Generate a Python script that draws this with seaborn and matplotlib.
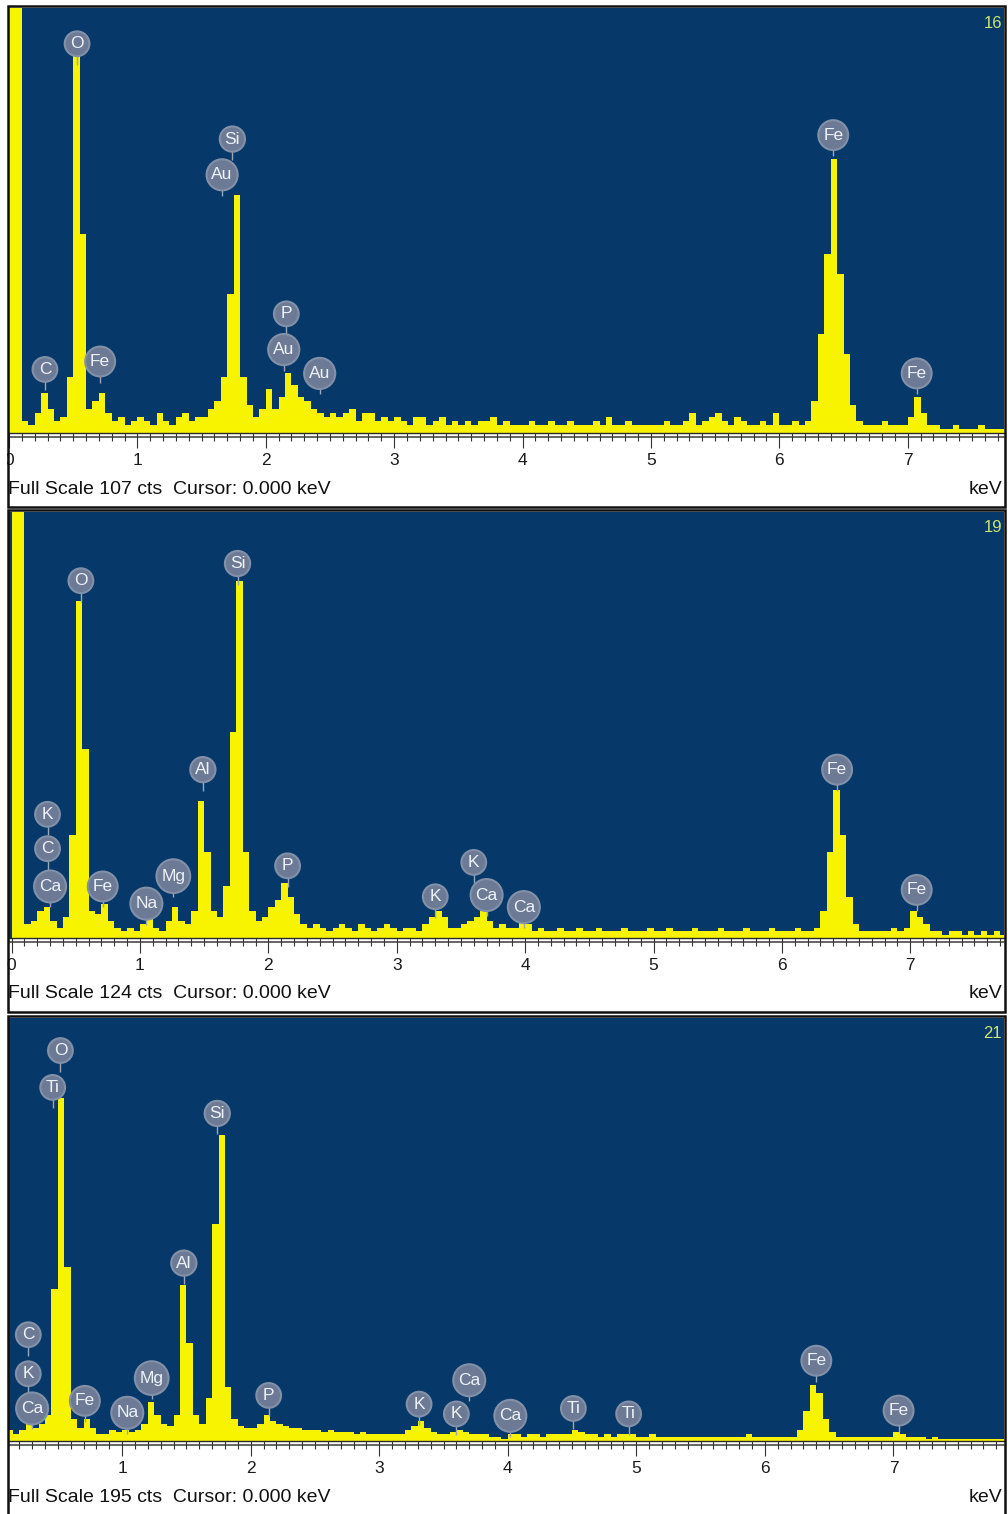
import numpy as np
import pandas as pd
import matplotlib
matplotlib.use("Agg")
import matplotlib.pyplot as plt
from matplotlib.patches import Rectangle
from matplotlib.lines import Line2D
from matplotlib.ticker import MultipleLocator
import seaborn as sns

# ---------------------------------------------------------------------------
# EDS spectra: counts per 0.05 keV channel (channel k covers k*0.05 .. (k+1)*0.05 keV)
# ---------------------------------------------------------------------------
channel_width = 0.05

spectrum_16 = [
    150, 150, 3, 2, 5, 10, 6, 3, 4, 14,      # 0.0 - 0.5
    95, 50, 6, 8, 10, 5, 3, 4, 2, 3,         # 0.5 - 1.0
    4, 3, 2, 5, 3, 2, 4, 5, 3, 4,            # 1.0 - 1.5
    4, 6, 8, 14, 35, 60, 14, 7, 4, 6,        # 1.5 - 2.0
    11, 6, 9, 15, 12, 9, 8, 6, 5, 4,         # 2.0 - 2.5
    5, 4, 5, 6, 3, 5, 5, 3, 4, 3,            # 2.5 - 3.0
    4, 3, 2, 4, 4, 2, 3, 4, 2, 3,            # 3.0 - 3.5
    2, 3, 2, 3, 3, 4, 2, 3, 2, 2,            # 3.5 - 4.0
    2, 3, 2, 2, 3, 2, 2, 3, 2, 2,            # 4.0 - 4.5
    2, 3, 2, 4, 2, 2, 3, 2, 2, 2,            # 4.5 - 5.0
    2, 2, 3, 2, 2, 3, 5, 2, 3, 4,            # 5.0 - 5.5
    5, 3, 2, 4, 3, 2, 2, 3, 2, 5,            # 5.5 - 6.0
    2, 2, 3, 2, 3, 8, 25, 45, 69, 40,        # 6.0 - 6.5
    20, 7, 3, 2, 2, 2, 3, 2, 2, 2,           # 6.5 - 7.0
    4, 9, 5, 2, 2, 1, 1, 2, 1, 1,            # 7.0 - 7.5
    1, 2, 1, 1, 1, 1, 1, 1,                  # 7.5 - 7.9
]

spectrum_19 = [
    170, 170, 4, 5, 8, 9, 5, 3, 6, 30,
    98, 55, 8, 7, 10, 5, 3, 2, 3, 2,
    4, 6, 3, 2, 5, 9, 5, 4, 8, 40,
    25, 8, 6, 15, 60, 104, 25, 8, 5, 6,
    9, 11, 16, 12, 7, 4, 3, 4, 3, 2,
    3, 4, 3, 2, 4, 3, 2, 3, 4, 3,
    2, 3, 3, 2, 4, 6, 8, 6, 3, 3,
    4, 5, 6, 8, 5, 3, 4, 3, 3, 5,
    4, 2, 3, 2, 2, 3, 2, 2, 3, 2,
    2, 3, 2, 2, 2, 3, 2, 2, 2, 3,
    2, 2, 3, 2, 2, 2, 3, 2, 2, 2,
    3, 2, 2, 2, 3, 2, 2, 2, 3, 2,
    2, 2, 3, 2, 2, 3, 8, 25, 43, 30,
    12, 4, 2, 2, 2, 2, 2, 3, 2, 3,
    8, 6, 4, 2, 2, 1, 2, 2, 1, 2,
    1, 2, 1, 2, 1, 1, 1, 1,
]

spectrum_21 = [
    250, 250, 5, 3, 5, 8, 6, 8, 12, 70,
    158, 80, 10, 6, 10, 6, 3, 3, 5, 4,
    5, 4, 5, 8, 18, 12, 8, 7, 12, 72,
    45, 12, 8, 20, 100, 141, 25, 10, 7, 6,
    6, 8, 12, 9, 8, 7, 6, 6, 5, 5,
    5, 4, 5, 4, 4, 4, 3, 4, 3, 3,
    3, 3, 3, 3, 5, 7, 9, 6, 4, 3,
    3, 4, 5, 4, 3, 3, 3, 2, 2, 1,
    3, 3, 2, 3, 3, 2, 3, 3, 3, 3,
    5, 4, 3, 3, 2, 3, 2, 3, 3, 3,
    2, 2, 3, 2, 2, 2, 2, 2, 2, 2,
    2, 2, 2, 2, 2, 2, 2, 3, 2, 2,
    2, 2, 2, 2, 2, 5, 14, 26, 22, 10,
    4, 2, 2, 2, 2, 2, 2, 2, 2, 2,
    4, 3, 2, 2, 2, 1, 2, 1, 1, 1,
    1, 1, 1, 1, 1, 1, 1, 1,
]

spectrum_ids = ["16", "19", "21"]
full_scale_cts = [107, 124, 195]

# element markers: label, line energy (keV), marker height (counts)
labels_16 = ["O", "Si", "Au", "P", "Au", "Au", "C", "Fe", "Fe", "Fe"]
energy_16 = [0.53, 1.74, 1.66, 2.16, 2.14, 2.42, 0.28, 0.71, 6.42, 7.07]
height_16 = [98, 74, 65, 30, 21, 15, 16, 18, 75, 15]

labels_19 = ["O", "Si", "Al", "K", "C", "Ca", "Fe", "Na", "Mg", "P",
             "K", "K", "Ca", "Ca", "Fe", "Fe"]
energy_19 = [0.54, 1.76, 1.49, 0.28, 0.28, 0.30, 0.71, 1.05, 1.26, 2.15,
             3.30, 3.60, 3.70, 3.99, 6.43, 7.05]
height_19 = [104, 109, 49, 36, 26, 15, 15, 10, 18, 21,
             12, 22, 12.5, 9, 49, 14]

labels_21 = ["O", "Ti", "Si", "Al", "C", "K", "Ca", "Fe", "Na", "Mg", "P",
             "K", "K", "Ca", "Ca", "Ti", "Ti", "Fe", "Fe"]
energy_21 = [0.52, 0.46, 1.74, 1.48, 0.27, 0.27, 0.30, 0.71, 1.04, 1.23, 2.14,
             3.31, 3.60, 3.70, 4.02, 4.51, 4.94, 6.40, 7.04]
height_21 = [180, 163, 151, 82, 49, 31, 15, 18.5, 13, 29, 21,
             17, 12.5, 28, 11.6, 15, 12.5, 37, 14]

spectra = [spectrum_16, spectrum_19, spectrum_21]
markers = [(labels_16, energy_16, height_16),
           (labels_19, energy_19, height_19),
           (labels_21, energy_21, height_21)]

# ---------------------------------------------------------------------------
# styling
# ---------------------------------------------------------------------------
NAVY = "#063969"
YELLOW = "#f8f400"
BADGE = "#6c7a95"
BADGE_EDGE = "#8290a8"
STEM = "#9ba7b9"
ID_COLOR = "#cde66f"

sns.set_style("white")
plt.rcParams["font.family"] = ["Liberation Sans", "DejaVu Sans"]

W, H = 1008, 1514
fig = plt.figure(figsize=(W / 100, H / 100), dpi=100)
fig.patch.set_facecolor("white")


def fx(px):
    return px / W


def fy(px):
    return 1 - px / H


plot_top = [8, 512, 1018]
plot_base = [433, 938, 1441]
frame_top = [6, 510, 1016]
frame_bottom = [507, 1012, 1530]
x_left, x_right = 9, 1004
x_ranges = [(0.0, 7.75), (-0.02, 7.73), (0.12, 7.86)]

for i, counts in enumerate(spectra):
    n = len(counts)
    df = pd.DataFrame({
        "keV": (np.arange(n) + 0.5) * channel_width,
        "counts": np.asarray(counts, dtype=float),
    })

    top, base = plot_top[i], plot_base[i]
    ax = fig.add_axes([fx(x_left), fy(base), fx(x_right - x_left), (base - top) / H])
    ax.set_facecolor(NAVY)

    sns.histplot(data=df, x="keV", weights="counts", binwidth=channel_width,
                 binrange=(0, n * channel_width), element="step",
                 fill=True, color=YELLOW, alpha=1, linewidth=0, ax=ax)

    fs = full_scale_cts[i]
    ax.set_xlim(*x_ranges[i])
    ax.set_ylim(0, fs)
    ax.set_xlabel("")
    ax.set_ylabel("")
    ax.set_yticks([])
    ax.grid(False)
    for s in ["top", "left", "right"]:
        ax.spines[s].set_visible(False)
    ax.spines["bottom"].set_color("#2a2a2a")
    ax.spines["bottom"].set_linewidth(1.0)

    ax.xaxis.set_major_locator(MultipleLocator(1))
    ax.xaxis.set_minor_locator(MultipleLocator(0.1))
    ax.tick_params(axis="x", which="major", direction="out", length=10.5,
                   width=0.8, color="#333333", pad=4, labelsize=12.5,
                   labelcolor="#1a1a1a", bottom=True)
    ax.tick_params(axis="x", which="minor", direction="out", length=5.5,
                   width=0.8, color="#333333", bottom=True)

    # element markers with short stems
    px_per_count = (base - top) / fs
    stem = 21 / px_per_count
    labs, ens, hts = markers[i]
    for lab, e, h in zip(labs, ens, hts):
        ax.plot([e, e], [h, h - stem], color=STEM, lw=1.0, zorder=4,
                solid_capstyle="butt")
    for lab, e, h in zip(labs, ens, hts):
        ax.text(e, h, lab, ha="center", va="center", fontsize=12.5,
                color="#eef2f7", zorder=5,
                bbox=dict(boxstyle="circle,pad=0.28", fc=BADGE,
                          ec=BADGE_EDGE, lw=1.5))

    # second rule under the axis
    fig.add_artist(Line2D([fx(x_left), fx(x_right)], [fy(base + 4), fy(base + 4)],
                          color="#3a3a3a", lw=1.1, zorder=3))

    # spectrum id, status line and unit
    fig.text(fx(1002), fy(top + 16), spectrum_ids[i], ha="right", va="center",
             color=ID_COLOR, fontsize=12)
    fig.text(fx(8), fy(base + 56), f"Full Scale {fs} cts  Cursor: 0.000 keV",
             ha="left", va="center", fontsize=14, color="#111111")
    fig.text(fx(1002), fy(base + 56), "keV", ha="right", va="center",
             fontsize=14, color="#111111")

    # white margin and panel frame
    fig.add_artist(Rectangle((0, fy(frame_bottom[i])), fx(7),
                             (frame_bottom[i] - frame_top[i]) / H,
                             transform=fig.transFigure, fc="white", ec="none",
                             zorder=6))
    fig.add_artist(Rectangle((fx(7.5), fy(frame_bottom[i])), fx(997.5),
                             (frame_bottom[i] - frame_top[i]) / H,
                             transform=fig.transFigure, fill=False,
                             ec="#101010", lw=1.8, zorder=7))

fig.savefig("out.png", dpi=100, facecolor="white")
